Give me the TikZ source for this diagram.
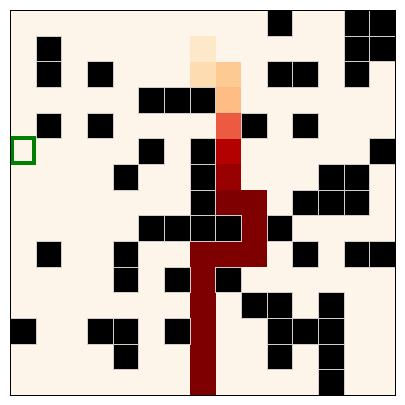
\documentclass[tikz,border=0pt]{standalone}
\usepackage{xcolor}
\usepackage{tikz}
\definecolor{gridcream}{HTML}{FEF5EA}
\definecolor{wallgray}{HTML}{D2CDC8}
\definecolor{goalgreen}{HTML}{008000}
\definecolor{heatA}{HTML}{FEE8CA}
\definecolor{heatB}{HTML}{FDDCB2}
\definecolor{heatC}{HTML}{FDCA94}
\definecolor{heatD}{HTML}{FDBD85}
\definecolor{heatE}{HTML}{EB5A41}
\definecolor{heatF}{HTML}{B30000}
\definecolor{heatG}{HTML}{990000}
\definecolor{heatH}{HTML}{7F0000}

\begin{document}
\begin{tikzpicture}[
    wall/.style={fill=black, draw=wallgray, line width=0.5pt},
    heat/.style={fill=#1, draw=none}
  ]
  \useasboundingbox (-0.401,-0.378) rectangle (15.378,15.401);
  % background of the grid
  \fill[gridcream] (0,0) rectangle (15,15);

  % visited cells, light to dark
  \foreach \c/\r/\col in {7/1/heatA, 7/2/heatB, 8/2/heatC, 8/3/heatD,
      8/4/heatE, 8/5/heatF, 8/6/heatG}
    \fill[heat=\col] (\c,14-\r) rectangle ++(1,1);
  \foreach \c/\r in {8/7, 9/7, 9/8, 7/9, 8/9, 9/9,
      7/10, 7/11, 7/12, 7/13, 7/14}
    \fill[heat=heatH] (\c,14-\r) rectangle ++(1,1);

  % walls (col/row, row 0 on top)
  \foreach \c/\r in {10/0, 13/0, 14/0,
      1/1, 13/1, 14/1,
      1/2, 3/2, 10/2, 11/2, 13/2,
      5/3, 6/3, 7/3,
      1/4, 3/4, 9/4, 11/4,
      5/5, 7/5, 14/5,
      4/6, 7/6, 12/6, 13/6,
      7/7, 11/7, 12/7, 13/7,
      5/8, 6/8, 7/8, 8/8, 10/8,
      1/9, 4/9, 11/9, 13/9, 14/9,
      4/10, 6/10, 8/10,
      9/11, 10/11, 12/11,
      0/12, 3/12, 4/12, 6/12, 10/12, 11/12, 12/12,
      4/13, 10/13, 12/13,
      12/14}
    \draw[wall] (\c,14-\r) rectangle ++(1,1);

  % goal marker
  \draw[goalgreen, line width=4pt] (0.08,9.06) rectangle (0.92,10.02);

  % frame
  \draw[black, line width=1pt] (0,0) rectangle (15,15);
\end{tikzpicture}
\end{document}
